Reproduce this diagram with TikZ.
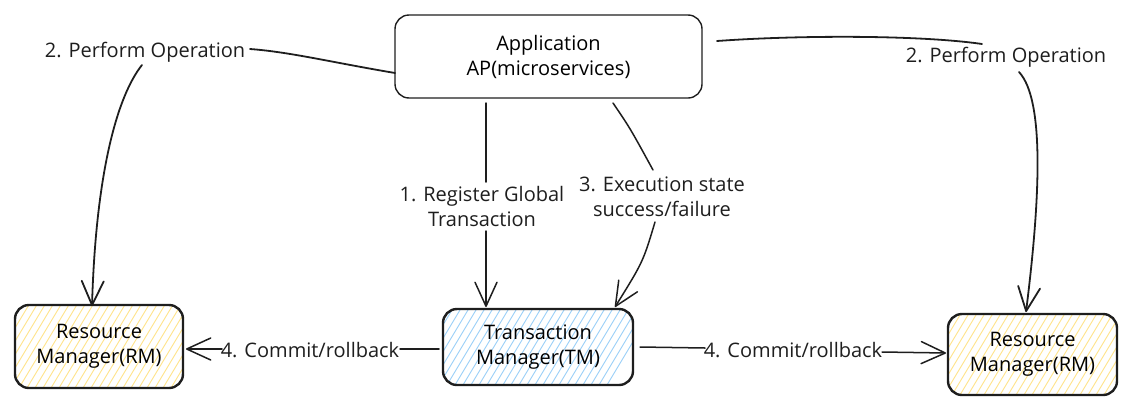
\documentclass[tikz,border=0pt]{standalone}
\usepackage{fontspec}
\setmainfont{Open Sans}
\usetikzlibrary{arrows.meta}
\definecolor{hatchyellow}{HTML}{FFE38A}
\definecolor{hatchblue}{HTML}{9ACFF7}
\definecolor{ink}{HTML}{1E1E1E}
\tikzset{
  hatched/.style={path picture={
    \foreach \k in {-10,...,28} {
      \draw[#1, line width=0.9pt] ([xshift=\k*8pt-60pt]path picture bounding box.south west) -- ++(60,-100);
    }
  }},
  box/.style={draw=ink, rounded corners=14pt, align=center, inner sep=0pt},
  appbox/.style={box, line width=1.4pt, minimum width=307pt, minimum height=83pt},
  rmbox/.style={box, line width=2.4pt, hatched=hatchyellow},
  tmbox/.style={box, line width=2.4pt, hatched=hatchblue},
  lbl/.style={align=center, inner sep=0pt, text=ink},
  conn/.style={draw=ink, line width=1.8pt, line cap=round, line join=round},
  arr/.style={conn, -{Straight Barb[length=24pt,width=22pt,line cap=round,line join=round]}},
}
\begin{document}
\begin{tikzpicture}[x=1pt, y=-1pt, font=\fontsize{20}{25}\selectfont]
\useasboundingbox (0,0) rectangle (1131,410);

% boxes
\node[appbox] (app) at (548.5,56.5) {Application\\AP(microservices)};
\node[rmbox, minimum width=168pt, minimum height=83pt] (rml) at (99,346.5) {Resource\\Manager(RM)};
\node[tmbox, minimum width=190pt, minimum height=76pt] (tm) at (538,347) {Transaction\\Manager(TM)};
\node[rmbox, minimum width=169pt, minimum height=81pt] (rmr) at (1032.5,354.5) {Resource\\Manager(RM)};

% labels
\node[lbl] (l2a) at (145,52) {2. Perform Operation};
\node[lbl] (l2b) at (1006,57) {2. Perform Operation};
\node[lbl] (l1) at (482,206) {1. Register Global\\Transaction};
\node[lbl] (l3) at (662,197) {3. Execution state\\success/failure};
\node[lbl] (l4a) at (310,350) {4. Commit/rollback};
\node[lbl] (l4b) at (793,350) {4. Commit/rollback};

% connector end points
\coordinate (a1s) at (395,73);
\coordinate (a1m) at (250,49);
\coordinate (a1n) at (142,65);
\coordinate (a1t) at (92,306);
\coordinate (a2s) at (717,41);
\coordinate (a2m) at (982,44);
\coordinate (a2n) at (1019,72);
\coordinate (a2t) at (1026,312);
\coordinate (c1s) at (486,103);
\coordinate (c1m) at (486,182);
\coordinate (c1n) at (486,231);
\coordinate (c1t) at (486,307);
\coordinate (c3s) at (613,103);
\coordinate (c3m) at (653,170);
\coordinate (c3n) at (655,222);
\coordinate (c3t) at (615,307);
\coordinate (d1s) at (439,349);
\coordinate (d1m) at (400,349);
\coordinate (d1n) at (222,349);
\coordinate (d1t) at (186,349);
\coordinate (d2s) at (640,347);
\coordinate (d2m) at (705,348);
\coordinate (d2n) at (882,352);
\coordinate (d2t) at (946,353);

% 2. Perform Operation (left)
\draw[conn] (a1s) .. controls (330,62) and (290,52) .. (a1m);
\draw[arr] (a1n) .. controls (118,95) and (96,170) .. (a1t);
% 2. Perform Operation (right)
\draw[conn] (a2s) .. controls (800,35) and (920,35) .. (a2m);
\draw[arr] (a2n) .. controls (1045,100) and (1040,200) .. (a2t);
% 1. Register
\draw[conn, line width=1.5pt] (c1s) -- (c1m);
\draw[arr, line width=1.5pt] (c1n) -- (c1t);
% 3. Execution state
\draw[conn, line width=1.5pt] (c3s) .. controls (630,128) .. (c3m);
\draw[arr, line width=1.5pt] (c3n) .. controls (643,262) .. (c3t);
% 4. Commit/rollback
\draw[conn, line width=1.5pt] (d1s) -- (d1m);
\draw[arr, line width=1.5pt] (d1n) -- (d1t);
\draw[conn, line width=1.5pt] (d2s) -- (d2m);
\draw[arr, line width=1.5pt] (d2n) -- (d2t);
\end{tikzpicture}
\end{document}
